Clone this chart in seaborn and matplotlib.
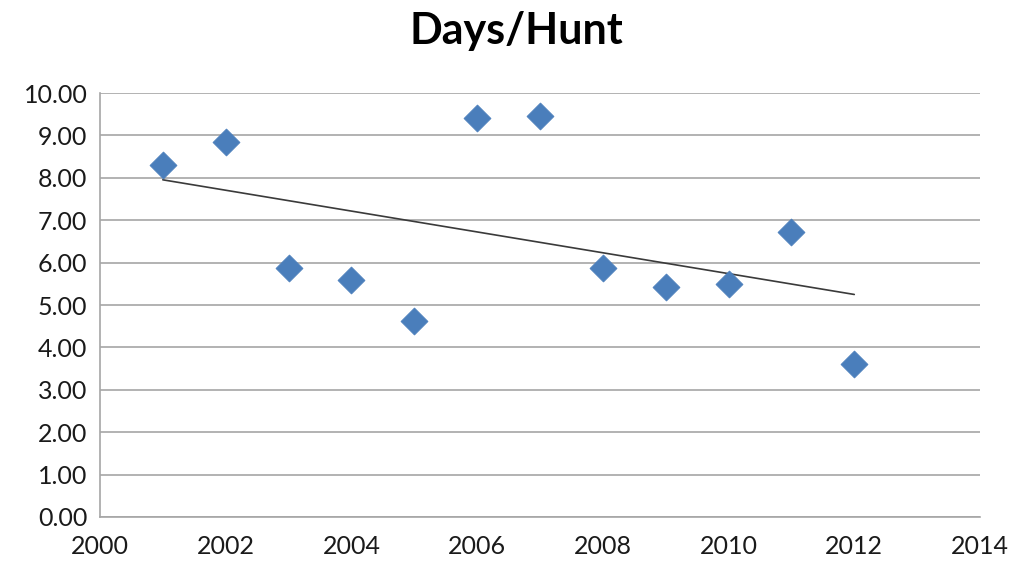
import matplotlib.pyplot as plt
import numpy as np
import pandas as pd
import seaborn as sns

years = [2001, 2002, 2003, 2004, 2005, 2006, 2007, 2008, 2009, 2010, 2011, 2012]
days_per_hunt = [8.30, 8.84, 5.87, 5.59, 4.62, 9.41, 9.46, 5.87, 5.42, 5.50, 6.72, 3.61]

df = pd.DataFrame({"year": years, "days": days_per_hunt})

sns.set_style("white")
plt.rcParams["font.family"] = ["Lato", "DejaVu Sans"]

fig = plt.figure(figsize=(10.17, 5.70), dpi=100)
ax = fig.add_axes([0.0983, 0.093, 0.8653, 0.7438])

# linear trendline, like the spreadsheet one
slope, intercept = np.polyfit(df["year"], df["days"], 1)
x0, x1 = df["year"].min(), df["year"].max()
ax.plot([x0, x1], [slope * x0 + intercept, slope * x1 + intercept],
        color="#3a3a3a", linewidth=1.2, zorder=2)

sns.scatterplot(data=df, x="year", y="days", ax=ax, marker="D", s=190,
                color="#4a7ebb", edgecolor="#4a7ebb", linewidth=0.5, zorder=3)

ax.set_xlim(2000, 2014)
ax.set_ylim(0, 10)
ax.set_xticks(range(2000, 2015, 2))
ax.set_yticks(np.arange(0, 10.5, 1))
ax.set_yticklabels([f"{v:.2f}" for v in np.arange(0, 10.5, 1)])
ax.yaxis.grid(True, color="#a6a6a6", linewidth=1.2)
ax.set_axisbelow(True)
ax.set_xlabel("")
ax.set_ylabel("")

for side in ["top", "right"]:
    ax.spines[side].set_visible(False)
for side in ["left", "bottom"]:
    ax.spines[side].set_color("#a6a6a6")
    ax.spines[side].set_linewidth(1.2)

ax.tick_params(axis="both", which="both", direction="out", length=6,
               color="#a6a6a6", width=1.2, labelsize=18, labelcolor="#1a1a1a")
ax.tick_params(axis="y", pad=3)
ax.tick_params(axis="x", pad=7)

fig.text(0.508, 0.945, "Days/Hunt", ha="center", va="center",
         fontsize=31, fontweight="bold", color="#000000")

fig.savefig("out.png", dpi=100)
